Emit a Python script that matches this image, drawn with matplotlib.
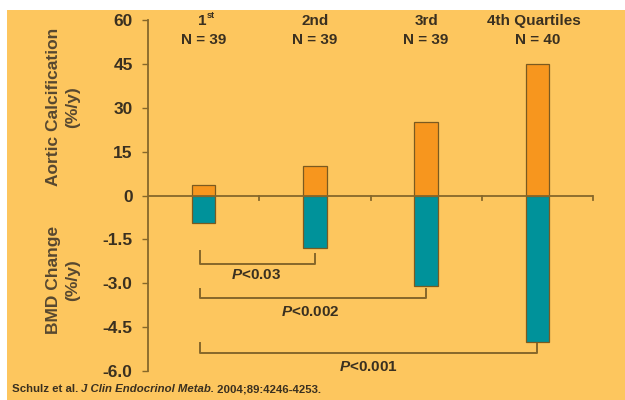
import matplotlib
matplotlib.use("Agg")
import matplotlib.pyplot as plt
from matplotlib.patches import Rectangle

plt.rcParams['font.family'] = ['Liberation Sans', 'DejaVu Sans']
plt.rcParams['mathtext.fontset'] = 'custom'
plt.rcParams['mathtext.it'] = 'Liberation Sans:italic:bold'
plt.rcParams['mathtext.rm'] = 'Liberation Sans:bold'
plt.rcParams['mathtext.bf'] = 'Liberation Sans:bold'

# ---- data ----
quartiles = ["1", "2nd", "3rd", "4th Quartiles"]
n_labels = ["N = 39", "N = 39", "N = 39", "N = 40"]
aortic_calc = [3.5, 10, 25, 45]          # %/y
bmd_change = [-0.95, -1.8, -3.1, -5.0]   # %/y
aortic_ticks = [0, 15, 30, 45, 60]
bmd_ticks = [-1.5, -3.0, -4.5, -6.0]
bmd_scale = 10  # lower half drawn at 10x
p_labels = ["<0.03", "<0.002", "<0.001"]
p_targets = [1, 2, 3]   # index of quartile compared with the 1st
citation = ["Schulz et al. ", "J Clin Endocrinol Metab.", " 2004;89:4246-4253."]

BG = '#FDC65E'
ORANGE = '#F7961E'
TEAL = '#00929A'
BROWN = '#86672A'
TXT = '#3A3020'
LBL = '#574830'

fig = plt.figure(figsize=(6.25, 4), dpi=100, facecolor='white')
fig.patches.append(Rectangle((7/625, 0), 1 - 7/625, 1 - 10/400, transform=fig.transFigure,
                             facecolor=BG, edgecolor='none', zorder=-10))

ax = fig.add_axes([148/625, 1 - 371/400, (593-148)/625, 351/400])
ax.set_facecolor('none')
ax.set_xlim(0, 4)
ax.set_ylim(-60, 60)

x = [i + 0.5 for i in range(len(quartiles))]
w = 0.21
ax.bar(x, aortic_calc, width=w, color=ORANGE, edgecolor='#7A5A20', linewidth=0.9, zorder=3)
ax.bar(x, [v * bmd_scale for v in bmd_change], width=w, color=TEAL, edgecolor='#7A5A20',
       linewidth=0.9, zorder=3)

# spines
for s in ['top', 'right', 'bottom']:
    ax.spines[s].set_visible(False)
ax.spines['left'].set_color(BROWN)
ax.spines['left'].set_linewidth(1.3)

yt = [t for t in aortic_ticks] + [t * bmd_scale for t in bmd_ticks]
yl = [f"{t:g}" for t in aortic_ticks] + [f"{t:.1f}" for t in bmd_ticks]
ax.set_yticks(yt)
ax.set_yticklabels(yl, fontsize=12.5, fontweight='bold', color=TXT)
ax.tick_params(axis='y', direction='out', length=4, width=1, color=BROWN, pad=7)
ax.set_xticks([])

# zero line with ticks
ax.axhline(0, color=BROWN, lw=1.3, zorder=4)
for b in range(1, 5):
    ax.plot([b, b], [0, -1.6], color=BROWN, lw=1.3, zorder=4, clip_on=False)

# top labels
for i, (q, n) in enumerate(zip(quartiles, n_labels)):
    if i == 0:
        ax.text(x[i] + 0.03, 59.5, q, ha='right', va='center', fontsize=11,
                fontweight='bold', color=TXT, clip_on=False)
        ax.text(x[i] + 0.03, 61.5, "st", ha='left', va='center', fontsize=6.5,
                fontweight='bold', color=TXT, clip_on=False)
    else:
        ax.text(x[i] - (0.03 if i == 3 else 0), 59.5, q, ha='center', va='center',
                fontsize=11, fontweight='bold', color=TXT, clip_on=False)
    ax.text(x[i], 53.2, n, ha='center', va='center', fontsize=11,
            fontweight='bold', color=TXT, clip_on=False)

# significance brackets
left_x = 0.47
bracket_h = [-23.5, -35, -54]
bracket_top = [[-19, -20], [-32, -32], [-50.5, -50.5]]
text_pos = [(0.97, -27.3), (1.46, -39.8), (1.98, -58.6)]
for pl, tgt, h, tops, (tx, ty) in zip(p_labels, p_targets, bracket_h, bracket_top, text_pos):
    rx = x[tgt]
    ax.plot([left_x, left_x, rx, rx], [tops[0], h, h, tops[1]], color=BROWN, lw=1.4,
            zorder=2, clip_on=False)
    ax.text(tx, ty, r"$\it{P}$" + pl, ha='center', va='center', fontsize=11,
            fontweight='bold', color=TXT, clip_on=False)

# y axis labels
fig.text(63/625, 1 - 107/400, "Aortic Calcification\n(%/y)", rotation=90, ha='center',
         va='center', fontsize=12.5, fontweight='bold', color=LBL, linespacing=1.3,
         multialignment='center')
fig.text(63/625, 1 - 280/400, "BMD Change\n(%/y)", rotation=90, ha='center',
         va='center', fontsize=12.5, fontweight='bold', color=LBL, linespacing=1.3,
         multialignment='center')

# citation
cs = 8.2
t0 = fig.text(12/625, 1 - 389/400, citation[0], ha='left', va='center', fontsize=cs,
              fontweight='bold', color=TXT)
a1 = ax.annotate(citation[1], xy=(1, 0.5), xycoords=t0, ha='left', va='center',
                 fontsize=cs, fontweight='bold', style='italic', color=TXT,
                 annotation_clip=False)
ax.annotate(citation[2], xy=(1, 0.5), xycoords=a1, ha='left', va='center',
            fontsize=cs, fontweight='bold', color=TXT, annotation_clip=False)

fig.savefig("out.png", dpi=100, facecolor='white')
